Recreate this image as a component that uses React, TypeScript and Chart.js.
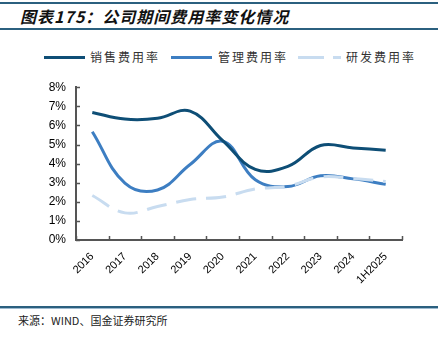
import React, { useEffect, useRef } from "react";
import { Chart, registerables } from "chart.js";

Chart.register(...registerables);

const categories = ["2016", "2017", "2018", "2019", "2020", "2021", "2022", "2023", "2024", "1H2025"];
const salesRate = [6.68, 6.33, 6.37, 6.75, 5.2, 3.7, 3.85, 4.95, 4.82, 4.7];
const adminRate = [5.67, 2.98, 2.62, 3.95, 5.17, 3.15, 2.8, 3.36, 3.2, 2.92];
const rdRate = [2.33, 1.42, 1.75, 2.12, 2.25, 2.67, 2.82, 3.3, 3.22, 3.06];
const seriesNames = ["销售费用率", "管理费用率", "研发费用率"];
const yMin = 0;
const yMax = 8;
const yStep = 1;

const C_SALES = "#0e4e76";
const C_ADMIN = "#3d7ec2";
const C_RD = "#c8dcf0";
const AXIS = "#555555";
const CJK = '"Noto Sans CJK SC", "Noto Sans", sans-serif';

const innerTicks = {
  id: "innerTicks",
  afterDatasetsDraw(chart: any) {
    const { ctx, scales } = chart;
    const x = scales.x;
    const y = scales.y;
    ctx.save();
    ctx.strokeStyle = AXIS;
    ctx.lineWidth = 1.5;
    ctx.beginPath();
    const n = categories.length;
    for (let i = 0; i <= n; i++) {
      let px;
      if (i === 0) px = x.left;
      else if (i === n) px = x.right;
      else px = (x.getPixelForValue(i - 1) + x.getPixelForValue(i)) / 2;
      px = Math.round(px) + 0.5;
      ctx.moveTo(px, y.bottom);
      ctx.lineTo(px, y.bottom - 4);
    }
    for (let v = yMin; v <= yMax; v += yStep) {
      const py = Math.round(y.getPixelForValue(v)) + 0.5;
      ctx.moveTo(x.left, py);
      ctx.lineTo(x.left + 4, py);
    }
    ctx.stroke();
    ctx.restore();
  },
};

function LegendLine({ color, dashed }: { color: string; dashed?: boolean }) {
  if (dashed) {
    return (
      <div style={{ position: "relative", width: 44, height: 3 }}>
        <div style={{ position: "absolute", left: 0, top: 0, width: 26, height: 3, background: color }} />
        <div style={{ position: "absolute", left: 35, top: 0, width: 8, height: 3, background: color }} />
      </div>
    );
  }
  return <div style={{ width: 41, height: 3, background: color }} />;
}

export default function App() {
  const canvasRef = useRef<HTMLCanvasElement | null>(null);

  useEffect(() => {
    document.body.style.margin = "0";
    const canvas = canvasRef.current;
    if (!canvas) return;
    const chart = new Chart(canvas, {
      type: "line",
      data: {
        labels: categories,
        datasets: [
          {
            label: seriesNames[0],
            data: salesRate,
            borderColor: C_SALES,
            backgroundColor: C_SALES,
            borderWidth: 3,
            pointRadius: 0,
            tension: 0.4,
            order: 1,
          },
          {
            label: seriesNames[1],
            data: adminRate,
            borderColor: C_ADMIN,
            backgroundColor: C_ADMIN,
            borderWidth: 3,
            pointRadius: 0,
            tension: 0.4,
            order: 2,
          },
          {
            label: seriesNames[2],
            data: rdRate,
            borderColor: C_RD,
            backgroundColor: C_RD,
            borderWidth: 3,
            borderDash: [20, 10],
            pointRadius: 0,
            tension: 0.4,
            order: 0,
          },
        ],
      },
      options: {
        animation: false,
        responsive: false,
        maintainAspectRatio: false,
        layout: { padding: { left: 0, right: 39, top: 9, bottom: 0 } },
        plugins: {
          legend: { display: false },
          tooltip: { enabled: false },
        },
        scales: {
          x: {
            offset: true,
            grid: { display: false, drawTicks: false },
            border: { display: true, color: AXIS, width: 2 },
            ticks: {
              autoSkip: false,
              minRotation: 45,
              maxRotation: 45,
              padding: 10,
              color: "#000",
              font: { family: '"Liberation Sans", Arial, sans-serif', size: 11 },
            },
            afterFit: (s: any) => {
              s.height = 60;
            },
          },
          y: {
            min: yMin,
            max: yMax,
            grid: { display: false, drawTicks: false },
            border: { display: true, color: AXIS, width: 2 },
            ticks: {
              stepSize: yStep,
              padding: 10,
              color: "#000",
              font: { family: '"Liberation Sans", Arial, sans-serif', size: 12 },
              callback: (v: any) => v + "%",
            },
            afterFit: (s: any) => {
              s.width = 76;
            },
          },
        },
      },
      plugins: [innerTicks],
    });
    return () => chart.destroy();
  }, []);

  return (
    <div style={{ position: "fixed", left: 0, top: 0, width: 441, height: 337, background: "#fff", overflow: "hidden" }}>
      <div style={{ position: "absolute", left: 0, top: 2, width: 438, height: 2, background: "#2b607f" }} />
      <div
        style={{
          position: "absolute",
          left: 20,
          top: 4,
          fontFamily: CJK,
          fontWeight: 700,
          fontStyle: "italic",
          fontSize: 16,
          letterSpacing: 1,
          lineHeight: "24px",
          color: "#111",
          whiteSpace: "nowrap",
        }}
      >
        图表175：公司期间费用率变化情况
      </div>
      <div style={{ position: "absolute", left: 0, top: 28, width: 438, height: 2, background: "#2b607f" }} />

      <div style={{ position: "absolute", left: 44, top: 56 }}>
        <LegendLine color={C_SALES} />
      </div>
      <div style={{ position: "absolute", left: 90, top: 49, fontFamily: CJK, fontSize: 12, lineHeight: "16px", color: "#333", letterSpacing: 2 }}>
        {seriesNames[0]}
      </div>
      <div style={{ position: "absolute", left: 171, top: 56 }}>
        <LegendLine color={C_ADMIN} />
      </div>
      <div style={{ position: "absolute", left: 218, top: 49, fontFamily: CJK, fontSize: 12, lineHeight: "16px", color: "#333", letterSpacing: 2 }}>
        {seriesNames[1]}
      </div>
      <div style={{ position: "absolute", left: 298, top: 56 }}>
        <LegendLine color={C_RD} dashed />
      </div>
      <div style={{ position: "absolute", left: 346, top: 49, fontFamily: CJK, fontSize: 12, lineHeight: "16px", color: "#333", letterSpacing: 2 }}>
        {seriesNames[2]}
      </div>

      <canvas ref={canvasRef} width={441} height={230} style={{ position: "absolute", left: 0, top: 70, width: 441, height: 230 }} />

      <div style={{ position: "absolute", left: 0, top: 306, width: 438, height: 2, background: "#2b607f" }} />
      <div style={{ position: "absolute", left: 0, top: 308, width: 438, height: 1, background: "#9dbad0" }} />
      <div style={{ position: "absolute", left: 18, top: 312, fontFamily: CJK, fontSize: 11, lineHeight: "16px", color: "#222", whiteSpace: "nowrap" }}>
        来源：WIND、国金证券研究所
      </div>
    </div>
  );
}
